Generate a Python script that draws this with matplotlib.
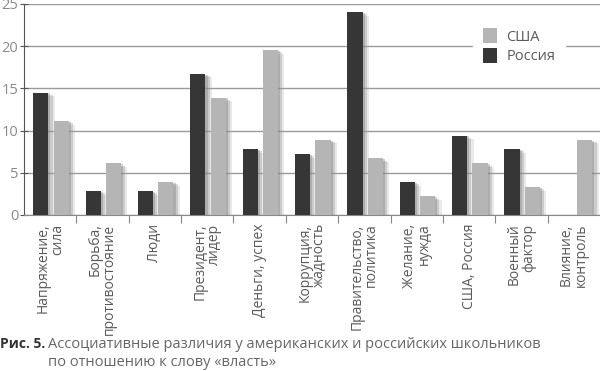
import numpy as np
import matplotlib
matplotlib.use("Agg")
import matplotlib.pyplot as plt
import matplotlib.patheffects as pe
from matplotlib.patches import Patch

plt.rcParams["font.family"] = ["Open Sans", "DejaVu Sans"]

categories = ["Напряжение,\nсила", "Борьба,\nпротивостояние", "Люди",
              "Президент,\nлидер", "Деньги, успех", "Коррупция,\nжадность",
              "Правительство,\nполитика", "Желание,\nнужда", "США, Россия",
              "Военный\nфактор", "Влияние,\nконтроль"]
russia = [14.5, 2.8, 2.8, 16.7, 7.8, 7.2, 24.0, 3.9, 9.4, 7.8, 0.0]
usa = [11.1, 6.1, 3.9, 13.9, 19.5, 8.9, 6.7, 2.2, 6.1, 3.3, 8.9]

DARK = "#363636"
LIGHT = "#b5b5b5"
TXT = "#5a5a5a"

fig = plt.figure(figsize=(6.0, 3.71), dpi=100)
ax = fig.add_axes([0.04, 0.4205, 0.96, 0.569])

x = np.arange(len(categories))
w = 0.29
# soft drop shadow: a few offset layers with low alpha
shadow = [pe.SimplePatchShadow(offset=(4.5, -2.5), shadow_rgbFace="#aaaaaa", alpha=0.25),
          pe.SimplePatchShadow(offset=(3, -1.5), shadow_rgbFace="#888888", alpha=0.3),
          pe.SimplePatchShadow(offset=(1.5, -0.5), shadow_rgbFace="#777777", alpha=0.35),
          pe.Normal()]
for xi, r, u in zip(x, russia, usa):
    if r > 0:
        ax.bar(xi - 0.18, r, w, color=DARK, zorder=3, path_effects=shadow)
    ax.bar(xi + 0.21, u, w, color=LIGHT, zorder=3, path_effects=shadow)

ax.set_xlim(-0.5, len(categories) - 0.5)
ax.set_ylim(0, 25)
ax.set_yticks(range(0, 26, 5))
ax.yaxis.grid(True, color="#9a9a9a", linewidth=1.0, zorder=0)
ax.set_axisbelow(True)
for s in ["top", "right"]:
    ax.spines[s].set_visible(False)
ax.spines["left"].set_color("#555555")
ax.spines["bottom"].set_color("#888888")
ax.tick_params(axis="y", direction="inout", length=6, colors="#555555",
               labelcolor="#8a8a8a", labelsize=10.5, pad=1)

# ticks on the category boundaries, labels centred below
ax.set_xticks(x[:-1] + 0.5)
ax.tick_params(axis="x", direction="out", length=6, colors="#888888", labelbottom=False)
for xi, lab in zip(x, categories):
    ax.text(xi, -1.0, lab, rotation=90, ha="center", va="top", multialignment="right",
            fontsize=10, color=TXT, linespacing=0.95)

handles = [Patch(facecolor=LIGHT, label="США"), Patch(facecolor=DARK, label="Россия")]
leg = ax.legend(handles=handles, loc="upper right", bbox_to_anchor=(0.94, 0.932),
                frameon=True, fontsize=10.5, handlelength=1.0, handleheight=1.2,
                handletextpad=0.6, labelspacing=0.2, borderpad=0.7, borderaxespad=0)
leg.get_frame().set_facecolor("white")
leg.get_frame().set_edgecolor("white")
leg.get_frame().set_alpha(1)
for t in leg.get_texts():
    t.set_color(TXT)

fig.text(0.0, 1 - 344 / 371, "Рис. 5.", fontsize=10, fontweight="bold", color="#333333", va="center")
fig.text(48 / 600, 1 - 344 / 371, "Ассоциативные различия у американских и российских школьников",
         fontsize=10.5, color="#666666", va="center")
fig.text(48 / 600, 1 - 363 / 371, "по отношению к слову «власть»",
         fontsize=10.5, color="#666666", va="center")

fig.savefig("out.png", dpi=100)
